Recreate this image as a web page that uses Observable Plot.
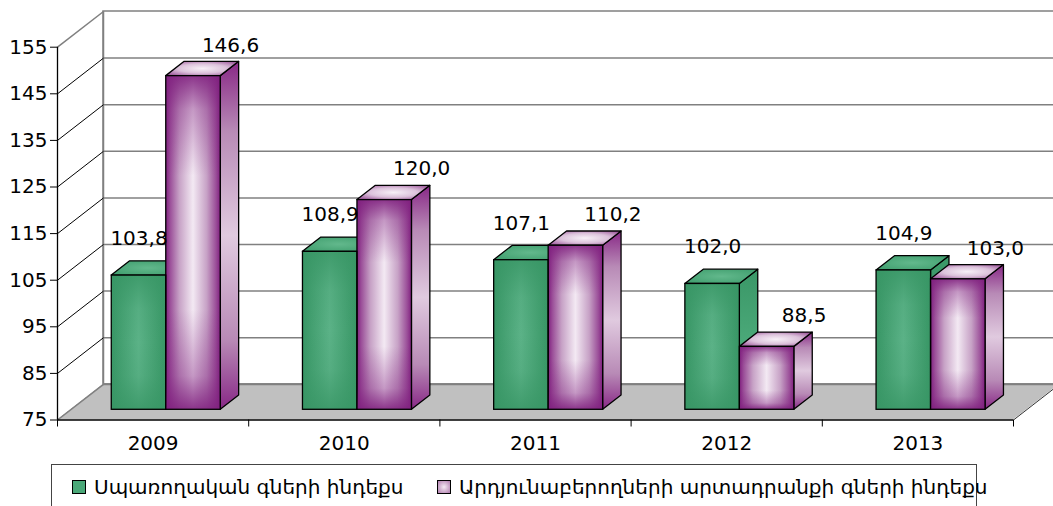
<!DOCTYPE html>
<html>
<head>
<meta charset="utf-8">
<script src="https://cdn.jsdelivr.net/npm/d3@7"></script>
<script src="https://cdn.jsdelivr.net/npm/@observablehq/plot@0.6"></script>
<style>
html, body { margin: 0; padding: 0; background: #fff; overflow: hidden; }
#wrap { position: relative; width: 1053px; height: 506px; overflow: hidden; font-family: "DejaVu Sans", "Liberation Sans", Arial, sans-serif; }
#chart svg { display: block; }
.legend { position: absolute; left: 51px; top: 464px; width: 926px; height: 70px; border: 1px solid #444; box-sizing: border-box; font-size: 20px; color: #000; }
.item { position: absolute; top: 10px; display: flex; align-items: center; white-space: nowrap; }
.sw { width: 12px; height: 12px; border: 1px solid #000; margin-right: 8px; }
</style>
</head>
<body>
<div id="wrap">
  <div id="chart"></div>
  <div class="legend" id="legend"></div>
</div>
<script>
// ---- data ----
const years = ["2009", "2010", "2011", "2012", "2013"];
const consumerIndex = [103.8, 108.9, 107.1, 102.0, 104.9];
const producerIndex = [146.6, 120.0, 110.2, 88.5, 103.0];
const seriesNames = ["Սպառողական գների ինդեքս", "Արդյունաբերողների արտադրանքի գների ինդեքս"];
const yTicks = [75, 85, 95, 105, 115, 125, 135, 145, 155];

// ---- 3D projection constants (category / value units) ----
const W = 1053, H = 460, ML = 57, MT = 11, MB = 40.5;
const PX_PER_CAT = 191.2, PX_PER_VAL = 4.66;
const DX = 46 / PX_PER_CAT, DY = 35.7 / PX_PER_VAL;   // full depth offset
const F0 = 0.286, FB = 0.40, BW = 0.285;             // bar front depth, bar depth, bar width
const Y0 = 75, YMAX = 155;
const fmt = v => v.toFixed(1).replace(".", ",");

const bars = [];
years.forEach((yr, i) => {
  [consumerIndex[i], producerIndex[i]].forEach((v, s) => {
    const x0 = i + 0.5 + (s ? 0 : -BW) + F0 * DX;
    bars.push({id: i + "-" + s, s, x0, x1: x0 + BW, yb: Y0 + F0 * DY, yt: v + F0 * DY, label: fmt(v)});
  });
});
const ddx = FB * DX, ddy = FB * DY;
const sides = bars.flatMap(b => [
  {id: b.id, s: b.s, x: b.x1, y1: b.yb, y2: b.yt},
  {id: b.id, s: b.s, x: b.x1 + ddx, y1: b.yb + ddy, y2: b.yt + ddy}
]);
const tops = bars.flatMap(b => [
  {id: b.id, s: b.s, y: b.yt, x1: b.x0, x2: b.x1},
  {id: b.id, s: b.s, y: b.yt + ddy, x1: b.x0 + ddx, x2: b.x1 + ddx}
]);
const floor = [
  {y: Y0, x1: 0, x2: 5},
  {y: Y0 + DY, x1: DX, x2: 5 + DX}
];
const catEdges = [0, 1, 2, 3, 4, 5];

const svg = Plot.plot({
  width: W, height: H,
  marginLeft: ML, marginRight: 0, marginTop: MT, marginBottom: MB,
  style: {fontSize: "20px", fontFamily: "DejaVu Sans, Liberation Sans, Arial, sans-serif", color: "#000", background: "transparent", overflow: "visible"},
  x: {domain: [0, (W - ML) / PX_PER_CAT], axis: null},
  y: {domain: [Y0, YMAX + DY], ticks: yTicks, tickSize: 7, tickPadding: 3, tickFormat: d => String(d), label: null},
  color: {type: "identity"},
  marks: [
    // back wall
    Plot.rect([0], {x1: DX, x2: 5 + DX, y1: Y0 + DY, y2: YMAX + DY, fill: "white", stroke: "#808080", strokeWidth: 1.5}),
    Plot.ruleY(yTicks.filter(d => d > Y0 && d < YMAX), {y: d => d + DY, x1: DX, x2: 5 + DX, stroke: "#808080", strokeWidth: 1.5}),
    Plot.ruleX([DX], {y1: Y0 + DY, y2: YMAX + DY, stroke: "#808080", strokeWidth: 1.5}),
    // side wall diagonals
    Plot.link(yTicks, {x1: 0, x2: DX, y1: d => d, y2: d => d + DY, stroke: d => (d === YMAX ? "#808080" : "#000"), strokeWidth: d => (d === YMAX ? 1.5 : 1)}),
    // floor
    Plot.areaX(floor, {y: "y", x1: "x1", x2: "x2", fill: "#c0c0c0"}),
    Plot.ruleY([Y0 + DY], {x1: DX, x2: 5 + DX, stroke: "#808080", strokeWidth: 2}),
    Plot.link([0], {x1: 0, x2: DX, y1: Y0, y2: Y0 + DY, stroke: "#808080", strokeWidth: 1.5}),
    Plot.link([0], {x1: 5, x2: 5 + DX, y1: Y0, y2: Y0 + DY, stroke: "#333", strokeWidth: 1}),
    // axes lines and ticks
    Plot.ruleY([Y0], {x1: 0, x2: 5, stroke: "#000", strokeWidth: 1.3}),
    Plot.ruleX([0], {y1: Y0, y2: YMAX, stroke: "#000", strokeWidth: 1.3}),
    Plot.ruleX(catEdges, {y1: Y0, y2: Y0 - 7 / PX_PER_VAL, stroke: "#000", strokeWidth: 1}),
    // bars
    Plot.areaY(sides, {x: "x", y1: "y1", y2: "y2", z: "id", fill: d => (d.s ? "url(#pSide)" : "url(#gSide)"), stroke: "#000", strokeWidth: 1.3, strokeLinejoin: "round"}),
    Plot.areaX(tops, {y: "y", x1: "x1", x2: "x2", z: "id", fill: d => (d.s ? "url(#pTop)" : "url(#gTop)"), stroke: "#000", strokeWidth: 1.3, strokeLinejoin: "round"}),
    Plot.rect(bars, {x1: "x0", x2: "x1", y1: "yb", y2: "yt", fill: d => (d.s ? "url(#pH)" : "url(#gH)")}),
    Plot.rect(bars, {x1: "x0", x2: "x1", y1: "yb", y2: "yt", fill: d => (d.s ? "url(#pV)" : "url(#gV)"), stroke: "#000", strokeWidth: 1.3}),
    // value labels
    Plot.text(bars.filter(b => !b.s), {x: b => (b.x0 + b.x1) / 2, y: "yt", text: "label", dy: -37, fill: "#000"}),
    Plot.text(bars.filter(b => b.s), {x: b => (b.x0 + b.x1) / 2, y: "yt", text: "label", dx: 37, dy: -31, fill: "#000"}),
    // category labels
    Plot.text(years, {x: (d, i) => i + 0.5, y: Y0, text: d => d, dy: 24, fill: "#000"})
  ]
});

svg.insertAdjacentHTML("afterbegin", `
<defs>
  <linearGradient id="gH" x1="0" y1="0" x2="1" y2="0">
    <stop offset="0" stop-color="#389665"/>
    <stop offset="0.5" stop-color="#5bb287"/>
    <stop offset="1" stop-color="#389665"/>
  </linearGradient>
  <linearGradient id="gV" x1="0" y1="0" x2="0" y2="1">
    <stop offset="0" stop-color="#389665" stop-opacity="0.8"/>
    <stop offset="0.25" stop-color="#389665" stop-opacity="0.15"/>
    <stop offset="0.5" stop-color="#389665" stop-opacity="0"/>
    <stop offset="0.75" stop-color="#389665" stop-opacity="0.15"/>
    <stop offset="1" stop-color="#389665" stop-opacity="0.8"/>
  </linearGradient>
  <radialGradient id="gTop" cx="0.5" cy="0.5" r="0.6">
    <stop offset="0" stop-color="#62b88c"/>
    <stop offset="1" stop-color="#42a070"/>
  </radialGradient>
  <linearGradient id="gSide" x1="0" y1="0" x2="0" y2="1">
    <stop offset="0" stop-color="#3a9767"/>
    <stop offset="0.5" stop-color="#4aa878"/>
    <stop offset="1" stop-color="#3a9767"/>
  </linearGradient>
  <linearGradient id="pH" x1="0" y1="0" x2="1" y2="0">
    <stop offset="0" stop-color="#80207f"/>
    <stop offset="0.08" stop-color="#9b4f99"/>
    <stop offset="0.25" stop-color="#c7a2c6"/>
    <stop offset="0.5" stop-color="#f3e9f3"/>
    <stop offset="0.75" stop-color="#c7a2c6"/>
    <stop offset="0.92" stop-color="#9b4f99"/>
    <stop offset="1" stop-color="#80207f"/>
  </linearGradient>
  <linearGradient id="pV" x1="0" y1="0" x2="0" y2="1">
    <stop offset="0" stop-color="#80207f" stop-opacity="0.9"/>
    <stop offset="0.1" stop-color="#80207f" stop-opacity="0.4"/>
    <stop offset="0.3" stop-color="#80207f" stop-opacity="0"/>
    <stop offset="0.7" stop-color="#80207f" stop-opacity="0"/>
    <stop offset="0.9" stop-color="#80207f" stop-opacity="0.4"/>
    <stop offset="1" stop-color="#80207f" stop-opacity="0.9"/>
  </linearGradient>
  <radialGradient id="pTop" cx="0.5" cy="0.5" r="0.6">
    <stop offset="0" stop-color="#f7f0f7"/>
    <stop offset="0.55" stop-color="#dcc2db"/>
    <stop offset="1" stop-color="#a462a2"/>
  </radialGradient>
  <linearGradient id="pSide" x1="0" y1="0" x2="0" y2="1">
    <stop offset="0" stop-color="#882886"/>
    <stop offset="0.2" stop-color="#b88ab6"/>
    <stop offset="0.5" stop-color="#e0cadf"/>
    <stop offset="0.8" stop-color="#b88ab6"/>
    <stop offset="1" stop-color="#882886"/>
  </linearGradient>
</defs>`);

document.getElementById("chart").appendChild(svg);

// legend
const legend = document.getElementById("legend");
const lefts = [20, 385];
seriesNames.forEach((name, i) => {
  const item = document.createElement("div");
  item.className = "item";
  item.style.left = lefts[i] + "px";
  const sw = document.createElement("span");
  sw.className = "sw";
  sw.style.background = i ? "radial-gradient(#f4eaf3, #b07cae)" : "#4aa878";
  const t = document.createElement("span");
  t.textContent = name;
  item.appendChild(sw);
  item.appendChild(t);
  legend.appendChild(item);
});
</script>
</body>
</html>
